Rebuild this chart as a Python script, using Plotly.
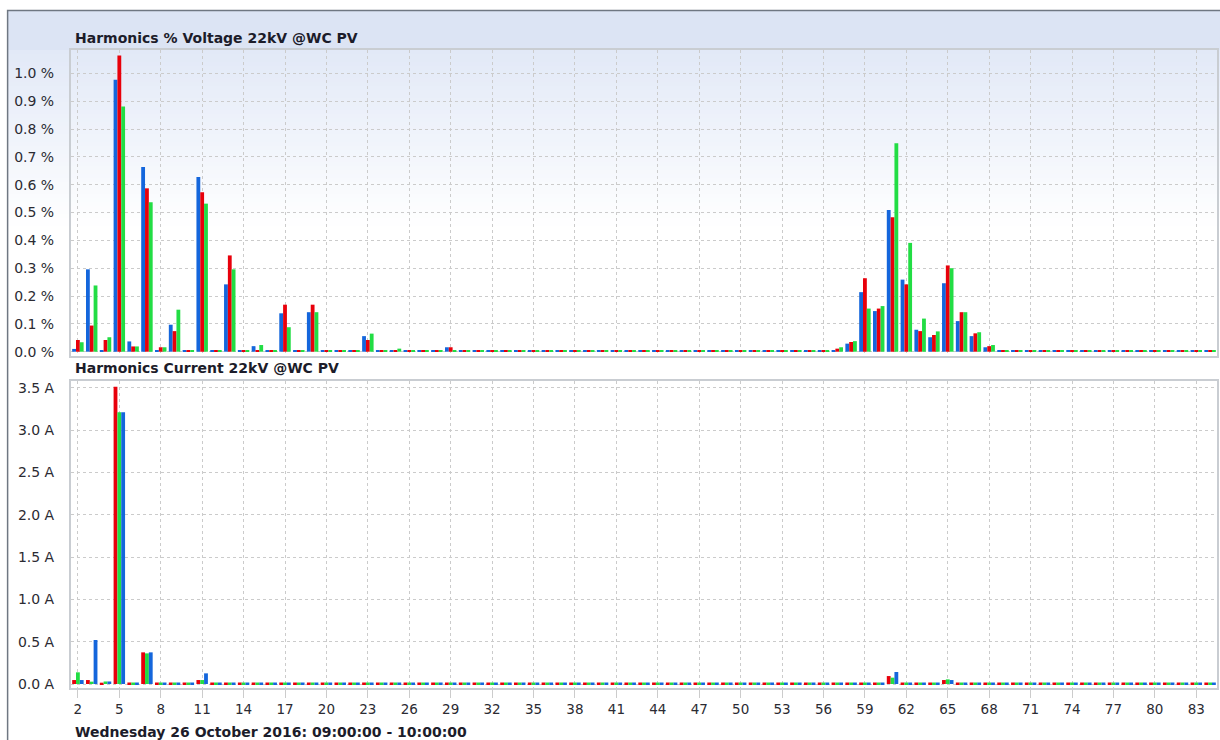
import plotly.graph_objects as go

harmonics = list(range(2, 85))

# Voltage harmonics (%), phases blue / red / green  (h2..h84)
volt_blue = [
    0.010, 0.296, 0.006, 0.977, 0.037, 0.664, 0.004, 0.097, 0.004, 0.628,
    0.004, 0.242, 0.004, 0.020, 0.004, 0.138, 0.004, 0.142, 0.004, 0.004,
    0.004, 0.056, 0.004, 0.006, 0.004, 0.004, 0.004, 0.016, 0.004, 0.004,
    0.004, 0.004, 0.004, 0.004, 0.004, 0.004, 0.004, 0.004, 0.004, 0.004,
    0.004, 0.004, 0.004, 0.004, 0.004, 0.004, 0.004, 0.004, 0.004, 0.004,
    0.004, 0.004, 0.004, 0.004, 0.006, 0.006, 0.029, 0.214, 0.146, 0.509,
    0.259, 0.079, 0.052, 0.246, 0.110, 0.056, 0.016, 0.004, 0.004, 0.004,
    0.004, 0.004, 0.004, 0.004, 0.004, 0.004, 0.004, 0.004, 0.004, 0.004,
    0.004, 0.004, 0.004,
]
volt_red = [
    0.042, 0.094, 0.042, 1.064, 0.019, 0.587, 0.016, 0.074, 0.004, 0.573,
    0.004, 0.346, 0.004, 0.006, 0.004, 0.169, 0.004, 0.169, 0.004, 0.004,
    0.004, 0.042, 0.004, 0.006, 0.004, 0.004, 0.004, 0.016, 0.004, 0.004,
    0.004, 0.004, 0.004, 0.004, 0.004, 0.004, 0.004, 0.004, 0.004, 0.004,
    0.004, 0.004, 0.004, 0.004, 0.004, 0.004, 0.004, 0.004, 0.004, 0.004,
    0.004, 0.004, 0.004, 0.004, 0.006, 0.011, 0.035, 0.264, 0.155, 0.483,
    0.242, 0.074, 0.060, 0.310, 0.142, 0.066, 0.020, 0.006, 0.004, 0.004,
    0.004, 0.004, 0.004, 0.004, 0.004, 0.004, 0.004, 0.004, 0.004, 0.004,
    0.004, 0.004, 0.004,
]
volt_green = [
    0.034, 0.238, 0.052, 0.881, 0.019, 0.537, 0.016, 0.151, 0.004, 0.532,
    0.004, 0.296, 0.004, 0.024, 0.004, 0.088, 0.004, 0.142, 0.004, 0.004,
    0.004, 0.065, 0.004, 0.011, 0.004, 0.004, 0.004, 0.006, 0.004, 0.004,
    0.004, 0.004, 0.004, 0.004, 0.004, 0.004, 0.004, 0.004, 0.004, 0.004,
    0.004, 0.004, 0.004, 0.004, 0.004, 0.004, 0.004, 0.004, 0.004, 0.004,
    0.004, 0.004, 0.004, 0.004, 0.004, 0.016, 0.038, 0.155, 0.164, 0.749,
    0.391, 0.119, 0.073, 0.300, 0.142, 0.070, 0.024, 0.005, 0.004, 0.004,
    0.004, 0.004, 0.004, 0.004, 0.004, 0.004, 0.004, 0.004, 0.004, 0.004,
    0.004, 0.004, 0.004,
]

# Current harmonics (A), phases red / green / blue  (h2..h84)
curr_red = [
    0.047, 0.047, 0.016, 3.510, 0.018, 0.374, 0.018, 0.018, 0.018, 0.047,
    0.018, 0.018, 0.018, 0.018, 0.018, 0.018, 0.018, 0.018, 0.018, 0.018,
    0.018, 0.018, 0.018, 0.018, 0.018, 0.018, 0.018, 0.018, 0.018, 0.018,
    0.018, 0.018, 0.018, 0.018, 0.018, 0.018, 0.018, 0.018, 0.018, 0.018,
    0.018, 0.018, 0.018, 0.018, 0.018, 0.018, 0.018, 0.018, 0.018, 0.018,
    0.018, 0.018, 0.018, 0.018, 0.018, 0.018, 0.018, 0.018, 0.018, 0.094,
    0.018, 0.018, 0.018, 0.047, 0.018, 0.018, 0.018, 0.018, 0.018, 0.018,
    0.018, 0.018, 0.018, 0.018, 0.018, 0.018, 0.018, 0.018, 0.018, 0.018,
    0.018, 0.018, 0.018,
]
curr_green = [
    0.138, 0.028, 0.030, 3.210, 0.018, 0.362, 0.018, 0.018, 0.018, 0.047,
    0.018, 0.018, 0.018, 0.018, 0.018, 0.018, 0.018, 0.018, 0.018, 0.018,
    0.018, 0.018, 0.018, 0.018, 0.018, 0.018, 0.018, 0.018, 0.018, 0.018,
    0.018, 0.018, 0.018, 0.018, 0.018, 0.018, 0.018, 0.018, 0.018, 0.018,
    0.018, 0.018, 0.018, 0.018, 0.018, 0.018, 0.018, 0.018, 0.018, 0.018,
    0.018, 0.018, 0.018, 0.018, 0.018, 0.018, 0.018, 0.018, 0.018, 0.075,
    0.018, 0.018, 0.018, 0.055, 0.018, 0.018, 0.018, 0.018, 0.018, 0.018,
    0.018, 0.018, 0.018, 0.018, 0.018, 0.018, 0.018, 0.018, 0.018, 0.018,
    0.018, 0.018, 0.018,
]
curr_blue = [
    0.047, 0.520, 0.030, 3.210, 0.018, 0.374, 0.018, 0.018, 0.018, 0.126,
    0.018, 0.018, 0.018, 0.018, 0.018, 0.018, 0.018, 0.018, 0.018, 0.018,
    0.018, 0.018, 0.018, 0.018, 0.018, 0.018, 0.018, 0.018, 0.018, 0.018,
    0.018, 0.018, 0.018, 0.018, 0.018, 0.018, 0.018, 0.018, 0.018, 0.018,
    0.018, 0.018, 0.018, 0.018, 0.018, 0.018, 0.018, 0.018, 0.018, 0.018,
    0.018, 0.018, 0.018, 0.018, 0.018, 0.018, 0.018, 0.018, 0.018, 0.142,
    0.018, 0.018, 0.018, 0.047, 0.018, 0.018, 0.018, 0.018, 0.018, 0.018,
    0.018, 0.018, 0.018, 0.018, 0.018, 0.018, 0.018, 0.018, 0.018, 0.018,
    0.018, 0.018, 0.018,
]

x_ticks = [2, 5, 8, 11, 14, 17, 20, 23, 26, 29, 32, 35, 38, 41, 44, 47, 50,
           53, 56, 59, 62, 65, 68, 71, 74, 77, 80, 83]
volt_tickvals = [0.0, 0.1, 0.2, 0.3, 0.4, 0.5, 0.6, 0.7, 0.8, 0.9, 1.0]
volt_ticktext = ["0.0 %", "0.1 %", "0.2 %", "0.3 %", "0.4 %", "0.5 %",
                 "0.6 %", "0.7 %", "0.8 %", "0.9 %", "1.0 %"]
curr_tickvals = [0.0, 0.5, 1.0, 1.5, 2.0, 2.5, 3.0, 3.5]
curr_ticktext = ["0.0 A", "0.5 A", "1.0 A", "1.5 A", "2.0 A", "2.5 A",
                 "3.0 A", "3.5 A"]

title_volt = "Harmonics % Voltage 22kV @WC PV"
title_curr = "Harmonics Current 22kV @WC PV"
period_text = "Wednesday 26 October 2016: 09:00:00 - 10:00:00"

BLUE = "#1466dc"
RED = "#e8000b"
GREEN = "#22dd44"
FONT = "DejaVu Sans"

fig = go.Figure()
for vals, col, nm in [(volt_blue, BLUE, "L1"), (volt_red, RED, "L2"), (volt_green, GREEN, "L3")]:
    fig.add_trace(go.Bar(x=harmonics, y=vals, marker=dict(color=col, line=dict(width=0)),
                         name=nm, xaxis="x", yaxis="y", showlegend=False))
for vals, col, nm in [(curr_red, RED, "L1"), (curr_green, GREEN, "L2"), (curr_blue, BLUE, "L3")]:
    fig.add_trace(go.Bar(x=harmonics, y=vals, marker=dict(color=col, line=dict(width=0)),
                         name=nm, xaxis="x2", yaxis="y2", showlegend=False))

W, H = 1220, 740
ML, MR, MT, MB = 71, 1, 50, 52
PW, PH = W - ML - MR, H - MT - MB


def px2x(px):
    return (px - ML) / PW


def py2y(py):
    return (H - MB - py) / PH


top_dom = [py2y(356), 1.0]
bot_dom = [0.0, py2y(381)]

grid = dict(showgrid=True, gridcolor="#cbcbcb", griddash="dot", gridwidth=1,
            zeroline=False, showline=True, linecolor="#c9cdd2", linewidth=2, mirror=True)
ytickfont = dict(family=FONT, size=14, color="#2b2b33")
xtickfont = dict(family=FONT, size=13.5, color="#2b2b33")

fig.update_layout(
    width=W, height=H,
    margin=dict(l=ML, r=MR, t=MT, b=MB),
    paper_bgcolor="white", plot_bgcolor="rgba(0,0,0,0)",
    barmode="group", bargap=0.17, bargroupgap=0.0,
    font=dict(family=FONT, size=13, color="#2b2b33"),
    xaxis=dict(domain=[0, 1], anchor="y", range=[1.5, 84.5], tickvals=x_ticks,
               showticklabels=False, ticks="", **grid),
    yaxis=dict(domain=top_dom, anchor="x", range=[-0.0154, 1.084],
               tickvals=volt_tickvals, ticktext=volt_ticktext, ticks="",
               ticklabelstandoff=12, tickfont=ytickfont, **grid),
    xaxis2=dict(domain=[0, 1], anchor="y2", range=[1.5, 84.5], tickvals=x_ticks,
                ticktext=[str(t) for t in x_ticks], ticks="outside", ticklen=8,
                tickcolor="#cccccc", tickwidth=1, tickfont=xtickfont, **grid),
    yaxis2=dict(domain=bot_dom, anchor="x2", range=[-0.047, 3.579],
                tickvals=curr_tickvals, ticktext=curr_ticktext, ticks="",
                ticklabelstandoff=12, tickfont=ytickfont, **grid),
)

# background gradient (header + top plot area)
shapes = []
shapes.append(dict(type="rect", xref="paper", yref="paper", layer="below",
                   x0=px2x(7), x1=1.02, y0=py2y(50), y1=py2y(10),
                   fillcolor="rgb(220,228,244)", line=dict(width=0)))
c0 = (226, 233, 247)
n = 45
y_start, y_end = 50, 230
for i in range(n):
    t = i / (n - 1)
    r = round(c0[0] + (255 - c0[0]) * t)
    g = round(c0[1] + (255 - c0[1]) * t)
    b = round(c0[2] + (255 - c0[2]) * t)
    ya = y_start + (y_end - y_start) * i / n
    yb = y_start + (y_end - y_start) * (i + 1) / n + 0.5
    shapes.append(dict(type="rect", xref="paper", yref="paper", layer="below",
                       x0=px2x(7), x1=1.02, y0=py2y(yb), y1=py2y(ya),
                       fillcolor=f"rgb({r},{g},{b})", line=dict(width=0)))
# outer frame
shapes.append(dict(type="rect", xref="paper", yref="paper", layer="below",
                   x0=px2x(7.5), x1=1.05, y0=-0.3, y1=py2y(10.5),
                   fillcolor="rgba(0,0,0,0)", line=dict(color="#6f7782", width=1.5)))
fig.update_layout(shapes=shapes)

ann_font = dict(family=FONT, size=14, color="#1c1c2a")
fig.add_annotation(text=f"<b>{title_volt}</b>", xref="paper", yref="paper",
                   x=px2x(73), y=py2y(38), xanchor="left", yanchor="middle",
                   showarrow=False, font=ann_font)
fig.add_annotation(text=f"<b>{title_curr}</b>", xref="paper", yref="paper",
                   x=px2x(73), y=py2y(368), xanchor="left", yanchor="middle",
                   showarrow=False, font=ann_font)
fig.add_annotation(text=f"<b>{period_text}</b>", xref="paper", yref="paper",
                   x=px2x(73), y=py2y(732), xanchor="left", yanchor="middle",
                   showarrow=False, font=ann_font)

fig.write_html(
    "out.html",
    config={"displayModeBar": False},
    post_script="document.body.style.margin='0';document.body.style.overflow='hidden';",
)
